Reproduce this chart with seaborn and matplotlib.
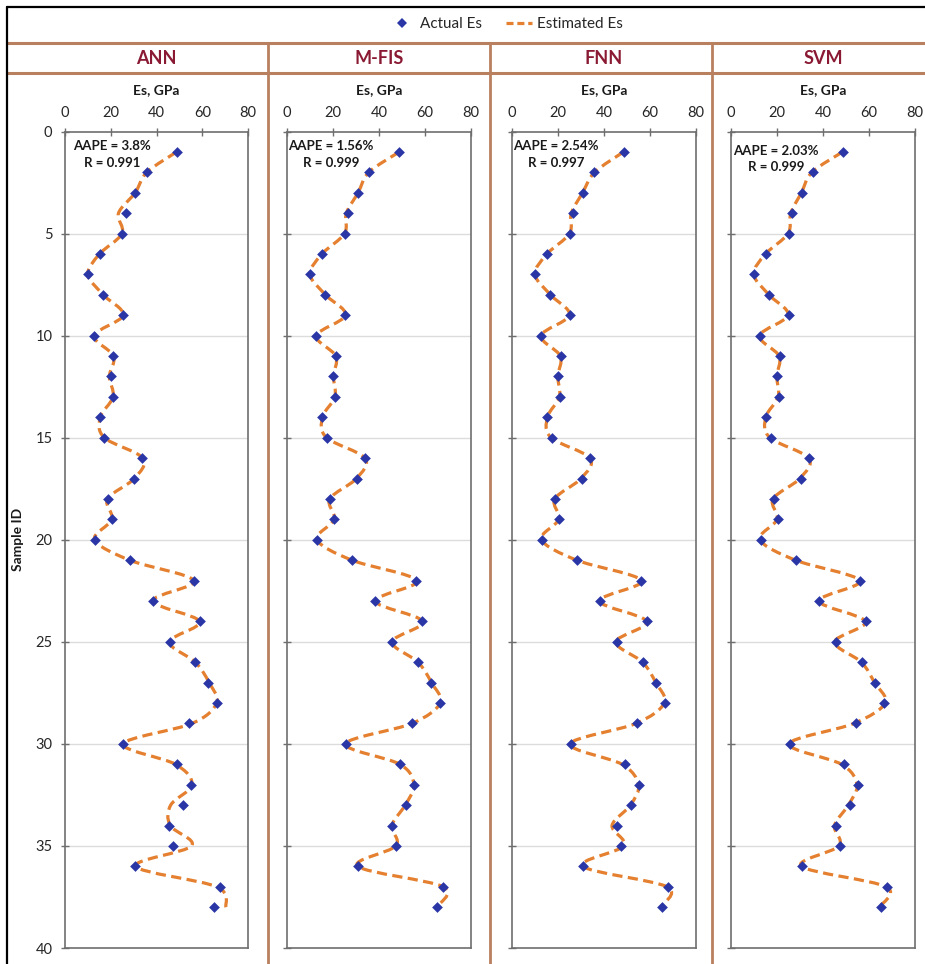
import numpy as np
import pandas as pd
import seaborn as sns
import matplotlib
matplotlib.use("Agg")
import matplotlib.pyplot as plt
from matplotlib.path import Path
from matplotlib.patches import PathPatch
from matplotlib.lines import Line2D

# ---- data -------------------------------------------------------------
sample_id = list(range(1, 39))

actual_es = [48.8, 35.8, 30.7, 26.5, 25.1, 15.1, 10.0, 16.7, 25.2, 12.8,
             21.2, 20.1, 20.8, 15.4, 17.2, 33.8, 30.3, 18.6, 20.5, 13.1,
             28.2, 56.3, 38.4, 58.8, 45.7, 57.0, 62.7, 66.6, 54.3, 25.5,
             49.1, 55.0, 51.6, 45.5, 47.3, 30.8, 67.7, 65.0]

est_ann = [48.8, 35.8, 30.7, 23.4, 24.9, 15.1, 10.0, 16.7, 25.4, 12.8,
           21.2, 19.4, 21.0, 15.4, 17.2, 34.0, 30.3, 18.6, 20.5, 13.0,
           28.2, 56.3, 38.4, 58.8, 45.7, 57.0, 63.0, 66.3, 55.5, 25.5,
           48.3, 55.5, 46.2, 46.0, 55.3, 30.9, 66.3, 70.4]

est_mfis = [48.8, 35.6, 30.9, 25.8, 25.0, 15.2, 10.0, 16.7, 25.4, 12.8,
            21.2, 20.2, 20.8, 15.4, 17.2, 33.9, 30.2, 18.6, 20.5, 13.1,
            28.2, 56.4, 38.4, 58.9, 45.7, 57.0, 62.8, 66.6, 54.3, 25.5,
            49.1, 55.2, 51.4, 45.6, 47.3, 30.8, 67.9, 65.0]

est_fnn = [48.5, 35.9, 30.7, 25.8, 25.0, 15.2, 10.0, 16.7, 25.0, 12.7,
           21.0, 19.9, 20.6, 15.4, 17.0, 33.9, 30.0, 18.6, 20.3, 12.9,
           28.1, 56.2, 38.1, 58.6, 45.2, 56.8, 62.5, 66.2, 53.9, 25.3,
           47.8, 55.0, 51.5, 43.5, 48.5, 30.9, 67.4, 64.6]

est_svm = [48.5, 35.2, 30.6, 26.0, 24.8, 15.0, 9.9, 16.5, 24.8, 12.5,
           20.9, 19.9, 20.5, 15.1, 16.9, 33.8, 29.9, 18.3, 20.0, 12.7,
           28.0, 55.9, 38.3, 58.4, 45.1, 56.7, 62.4, 67.0, 53.4, 25.3,
           48.0, 54.8, 51.0, 45.0, 46.9, 30.7, 67.4, 64.5]

models = ["ANN", "M-FIS", "FNN", "SVM"]
estimates = [est_ann, est_mfis, est_fnn, est_svm]
aape = ["3.8%", "1.56%", "2.54%", "2.03%"]
r_values = ["0.991", "0.999", "0.997", "0.999"]

x_ticks = [0, 20, 40, 60, 80]
y_ticks = [0, 5, 10, 15, 20, 25, 30, 35, 40]

# ---- style ------------------------------------------------------------
sns.set_theme(style="white")
plt.rcParams["font.family"] = ["Lato", "DejaVu Sans"]

W, H = 925, 964
fig = plt.figure(figsize=(W / 100, H / 100), dpi=100)
fig.patch.set_facecolor("white")


def fx(px):
    return px / W


def fy(py):
    return 1 - py / H


MARKER = "#2B36A6"
ORANGE = "#E4802F"
BROWN = "#B98060"
HEADER = "#8A1A33"
FRAME = "#6E6E6E"

# panel rectangles in pixels (left, right); shared top/bottom
panel_x = [(65, 248), (287, 471), (512, 696), (731, 915)]
top_px, bot_px = 131.5, 948
text_pos = [(0.258, 0.989), (0.238, 0.989), (0.238, 0.989), (0.245, 0.984)]


def smooth_path(xs, ys, tension=1.0 / 6.0):
    """Cubic Bezier path through the points (Catmull-Rom style smoothing)."""
    pts = np.column_stack([xs, ys]).astype(float)
    n = len(pts)
    verts = [pts[0]]
    codes = [Path.MOVETO]
    for i in range(n - 1):
        p0 = pts[i - 1] if i > 0 else pts[i]
        p1 = pts[i]
        p2 = pts[i + 1]
        p3 = pts[i + 2] if i + 2 < n else pts[i + 1]
        c1 = p1 + (p2 - p0) * tension
        c2 = p2 - (p3 - p1) * tension
        verts += [c1, c2, p2]
        codes += [Path.CURVE4] * 3
    return Path(verts, codes)


for k, (name, est) in enumerate(zip(models, estimates)):
    l, r = panel_x[k]
    ax = fig.add_axes([fx(l), fy(bot_px), (r - l) / W, (bot_px - top_px) / H])
    ax.set_facecolor("white")

    df = pd.DataFrame({"Sample ID": sample_id, "Actual Es": actual_es,
                       "Estimated Es": est})

    # horizontal grid
    for yv in y_ticks[1:-1]:
        ax.axhline(yv, color="#DCDCDC", lw=1.0, zorder=0)

    # estimated curve (smoothed, dashed)
    patch = PathPatch(smooth_path(df["Estimated Es"], df["Sample ID"]),
                      fill=False, edgecolor=ORANGE, lw=2.3,
                      linestyle=(0, (3.2, 1.7)), zorder=2)
    ax.add_patch(patch)

    # actual values
    sns.scatterplot(data=df, x="Actual Es", y="Sample ID", marker="D",
                    color=MARKER, s=30, linewidth=0, ax=ax, zorder=3,
                    legend=False)

    ax.set_xlim(0, 80)
    ax.set_ylim(40, 0)
    ax.set_xticks(x_ticks)
    ax.set_yticks(y_ticks)
    ax.xaxis.tick_top()
    ax.xaxis.set_label_position("top")
    ax.set_xlabel("Es, GPa", fontsize=10, fontweight="bold", labelpad=9,
                  color="#1A1A1A")
    ax.set_ylabel("")
    ax.tick_params(axis="both", direction="inout", length=6, width=1,
                   color=FRAME, labelsize=10.5, labelcolor="#262626")
    ax.tick_params(axis="x", pad=5, top=True, bottom=False)
    ax.tick_params(axis="y", pad=6, left=True, right=False)
    if k > 0:
        ax.set_yticklabels([])
    for sp in ax.spines.values():
        sp.set_color(FRAME)
        sp.set_linewidth(1.2)
        sp.set_visible(True)

    tx, ty = text_pos[k]
    ax.text(tx, ty, f"AAPE = {aape[k]}\nR = {r_values[k]}", transform=ax.transAxes,
            ha="center", va="top", multialignment="center", fontsize=9.5,
            fontweight="bold", linespacing=1.45, color="#1A1A1A", zorder=4)

    # model header
    fig.text(fx((l + r) / 2), fy(58), name, ha="center", va="center",
             fontsize=13, fontweight="bold", color=HEADER)

fig.text(fx(18), fy((top_px + bot_px) / 2), "Sample ID", rotation=90,
         ha="center", va="center", fontsize=10, fontweight="bold",
         color="#1A1A1A")

# table-like rules
for yy in (43, 73):
    fig.add_artist(Line2D([fx(7), 1.0], [fy(yy), fy(yy)], color=BROWN,
                          lw=2.2, transform=fig.transFigure))
for xx in (268, 490, 712):
    fig.add_artist(Line2D([fx(xx), fx(xx)], [fy(43), 0.0], color=BROWN,
                          lw=2.0, transform=fig.transFigure))

# outer frame
fig.add_artist(Line2D([fx(7), fx(7)], [fy(7), 0.0], color="black", lw=1.6,
                      transform=fig.transFigure))
fig.add_artist(Line2D([fx(7), 1.0], [fy(7), fy(7)], color="black", lw=1.6,
                      transform=fig.transFigure))

# legend
handles = [Line2D([], [], marker="D", color=MARKER, ls="none", markersize=4.8,
                  markeredgewidth=0, label="Actual Es"),
           Line2D([], [], color=ORANGE, lw=2.3, ls=(0, (2.2, 1.2)),
                  label="Estimated Es")]
fig.legend(handles=handles, loc="center", bbox_to_anchor=(fx(506), fy(24)),
           ncol=2, frameon=False, fontsize=11, handlelength=1.7,
           handletextpad=0.3, columnspacing=1.6)

fig.savefig("out.png", dpi=100, facecolor="white")
